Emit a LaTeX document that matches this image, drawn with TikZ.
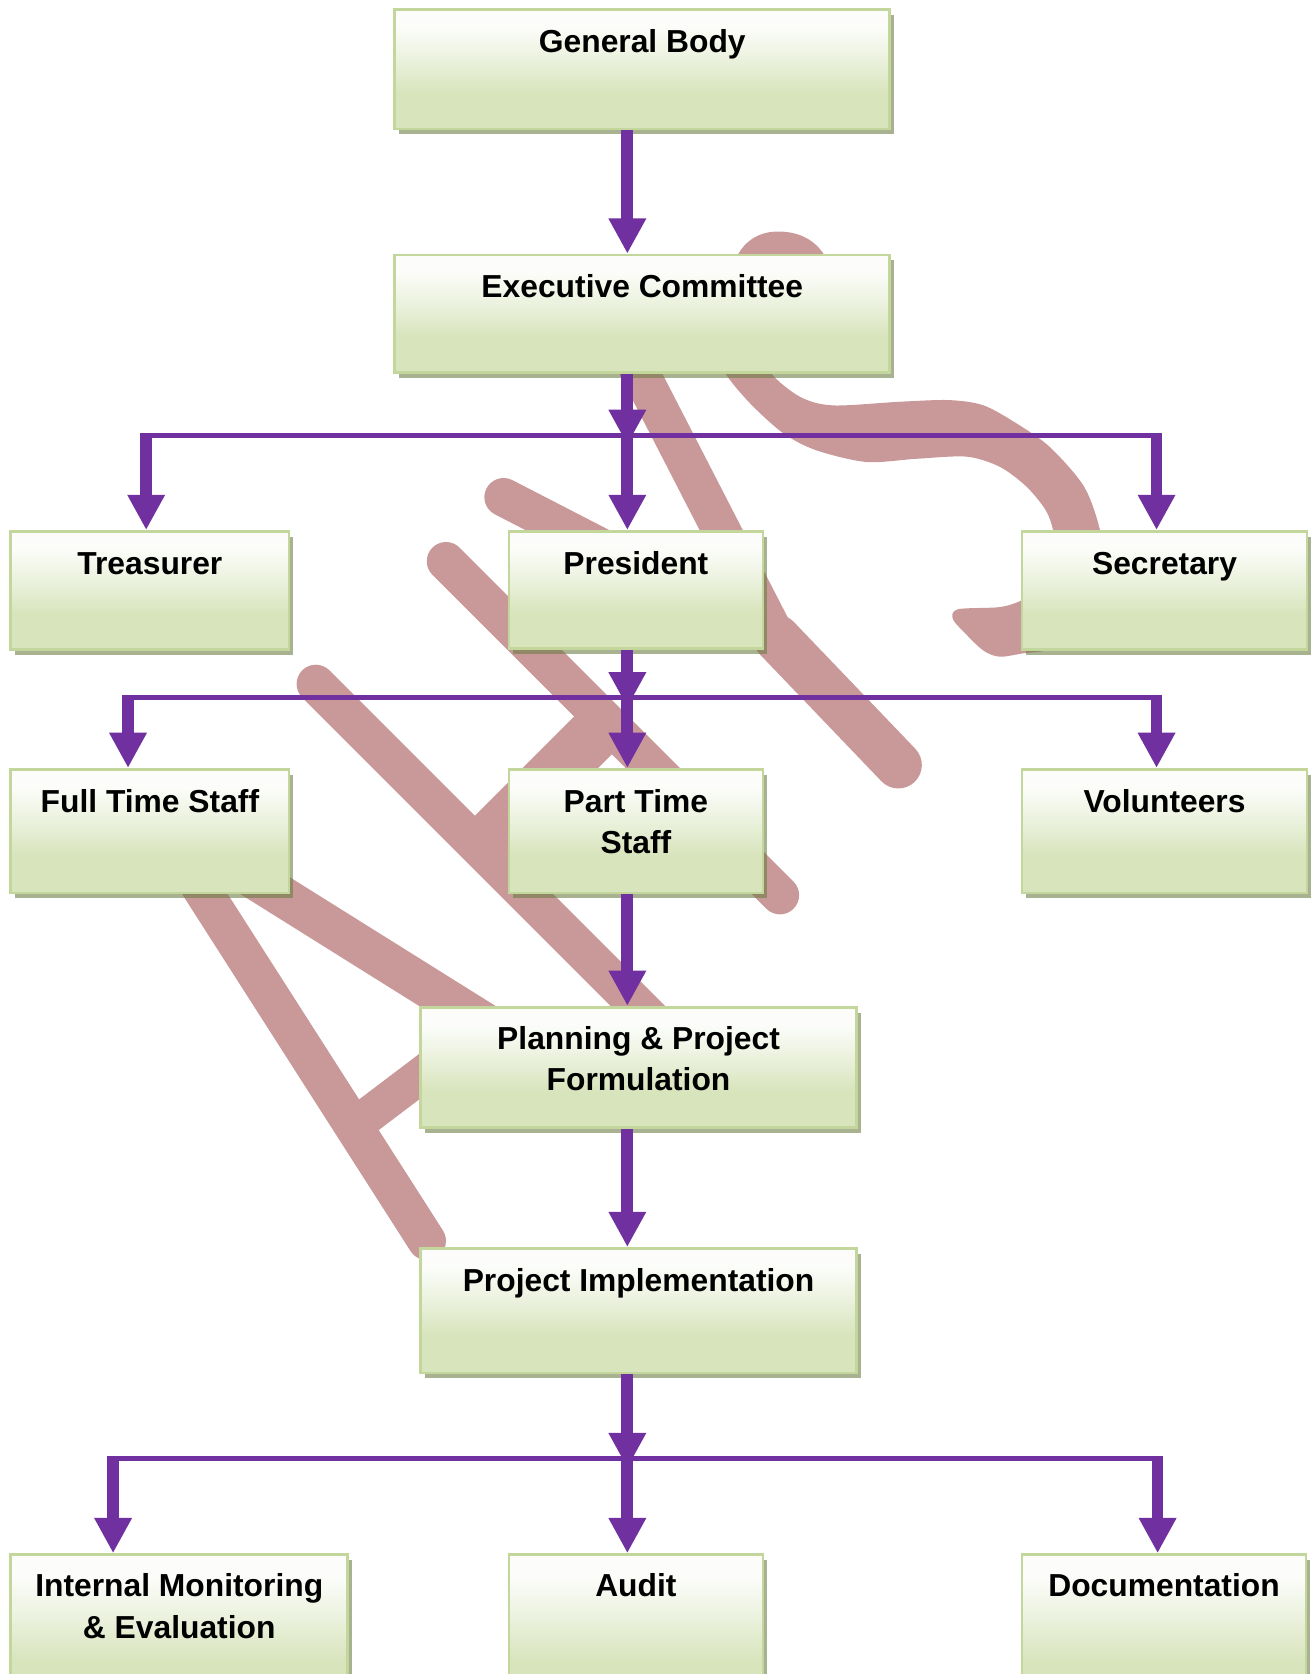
\documentclass[tikz,border=0pt]{standalone}
\usepackage{fontspec}
\setmainfont{Liberation Sans}
\usetikzlibrary{arrows.meta,shadows}
\definecolor{wm}{RGB}{201,153,153}
\definecolor{arr}{RGB}{112,48,160}
\definecolor{bxborder}{RGB}{195,214,155}
\definecolor{bga}{RGB}{216,228,188}
\definecolor{bgb}{RGB}{236,242,223}
\definecolor{bgc}{RGB}{252,253,250}
\definecolor{shd}{RGB}{110,125,70}
\pgfdeclareverticalshading{boxgrad}{100bp}{color(0bp)=(bga); color(25bp)=(bga); color(40bp)=(bga); color(55bp)=(bgb); color(68bp)=(bgc); color(100bp)=(bgc)}
\newcommand{\twol}[2]{\begin{tabular}[t]{@{}c@{}}#1\\#2\end{tabular}}
\begin{document}
\begin{tikzpicture}[x=1pt,y=-1pt,
  box/.style={draw=bxborder, line width=2.5pt, shade, shading=boxgrad, inner sep=0pt,
    drop shadow={shadow xshift=4pt, shadow yshift=-5pt, fill=shd, opacity=0.6}},
  lbl/.style={font=\fontsize{29.8}{39}\selectfont\bfseries, anchor=base, inner sep=0pt},
  wmline/.style={draw=wm, line width=36pt, line cap=round, line join=round},
  flow/.style={draw=arr, line width=11pt, -{Triangle[length=33pt,width=33pt]}},
  bus/.style={draw=arr, line width=5pt}]
\useasboundingbox (0,0) rectangle (1229,1569);
\fill[white] (0,0) rectangle (1229,1569);

% watermark: S
\draw[wmline, line width=40pt] (762,290) .. controls (764,250) and (752,237) .. (729,237)
  .. controls (706,237) and (703,260) .. (703,290);
\fill[wm] plot[smooth cycle, tension=0.5] coordinates {
  (716,325) (723,350) (750,372) (781,380) (844,376.5) (890,375) (922,380) (953,397)
  (984,419) (1016,456) (1031,497) (1036,540) (1024,582) (990,607) (958,612.5)
  (937,615.5) (922,610) (905,594) (893,580) (898,571) (937,569) (958,562.5)
  (980,548) (990,525) (987,497) (980,478) (962,456) (937,437.5) (906,428)
  (859,430) (812,433) (765,422) (734,406) (703,378) (680,350) (672,325)};
% watermark: other strokes
\draw[wmline] (585,320) -- (728,598);
\draw[wmline, line width=44pt] (728,598) -- (842,717);
\draw[wmline] (472,466) -- (728,598);
\draw[wmline] (296,641) -- (645,990);
\draw[wmline] (418,526) -- (731,839);
\draw[wmline, line width=50pt, line cap=butt] (450,795) -- (568,677);
\draw[wmline] (400,1163) -- (146,766);
\draw[wmline, line width=38pt] (146,766) -- (480,975);
\draw[wmline, line width=34pt, line cap=butt] (331,1056) -- (430,981);

% boxes
\node[box, minimum width=464pt, minimum height=112pt] (gb) at (602,65) {};
\node[box, minimum width=464pt, minimum height=110pt] (ec) at (602,294) {};
\node[box, minimum width=261pt, minimum height=111pt] (tr) at (140.5,553.5) {};
\node[box, minimum width=238pt, minimum height=110pt] (pr) at (596,553) {};
\node[box, minimum width=267pt, minimum height=111pt] (se) at (1091.5,553.5) {};
\node[box, minimum width=261pt, minimum height=116pt] (ft) at (140.5,779) {};
\node[box, minimum width=238pt, minimum height=116pt] (pt) at (596,779) {};
\node[box, minimum width=267pt, minimum height=116pt] (vo) at (1091.5,779) {};
\node[box, minimum width=409pt, minimum height=113pt] (pl) at (598.5,1000.5) {};
\node[box, minimum width=409pt, minimum height=117pt] (pi) at (598.5,1228.5) {};
\node[box, minimum width=316pt, minimum height=143pt] (im) at (168,1528.5) {};
\node[box, minimum width=238pt, minimum height=143pt] (au) at (596,1528.5) {};
\node[box, minimum width=266pt, minimum height=143pt] (dc) at (1091,1528.5) {};

% labels
\node[lbl] (tgb) at ([yshift=-41.5pt]gb.north) {General Body};
\node[lbl] (tec) at ([yshift=-41.5pt]ec.north) {Executive Committee};
\node[lbl] (ttr) at ([yshift=-41.5pt]tr.north) {Treasurer};
\node[lbl] (tpr) at ([yshift=-41.5pt]pr.north) {President};
\node[lbl] (tse) at ([yshift=-41.5pt]se.north) {Secretary};
\node[lbl] (tft) at ([yshift=-41.5pt]ft.north) {Full Time Staff};
\node[lbl] (tpt) at ([yshift=-41.5pt]pt.north) {\twol{Part Time}{Staff}};
\node[lbl] (tvo) at ([yshift=-41.5pt]vo.north) {Volunteers};
\node[lbl] (tpl) at ([yshift=-40.5pt]pl.north) {\twol{Planning \& Project}{Formulation}};
\node[lbl] (tpi) at ([yshift=-41.5pt]pi.north) {Project Implementation};
\node[lbl] (tim) at ([yshift=-40.5pt]im.north) {\twol{Internal Monitoring}{\& Evaluation}};
\node[lbl] (tau) at ([yshift=-40.5pt]au.north) {Audit};
\node[lbl] (tdc) at ([yshift=-40.5pt]dc.north) {Documentation};

% connector coordinates
\coordinate (cx) at (588,0);
\coordinate (b1) at (588,408);
\coordinate (b1l) at (137,408);
\coordinate (b1r) at (1084,408);
\coordinate (b2) at (588,654);
\coordinate (b2l) at (120,654);
\coordinate (b2r) at (1084,654);
\coordinate (b3) at (588,1367);
\coordinate (b3l) at (106,1367);
\coordinate (b3r) at (1085,1367);

% connectors
\draw[flow] (gb.south -| cx) -- (ec.north -| cx);

\draw[bus] ([xshift=-5.5pt]b1l) -- ([xshift=5.5pt]b1r);
\draw[flow] (ec.south -| cx) -- ([yshift=-9pt]b1);
\draw[flow] ([yshift=2.5pt]b1l) -- (tr.north -| b1l);
\draw[flow] (b1) -- (pr.north -| cx);
\draw[flow] ([yshift=2.5pt]b1r) -- (se.north -| b1r);

\draw[bus] ([xshift=-5.5pt]b2l) -- ([xshift=5.5pt]b2r);
\draw[flow] (pr.south -| cx) -- ([yshift=-9pt]b2);
\draw[flow] ([yshift=2.5pt]b2l) -- (ft.north -| b2l);
\draw[flow] (b2) -- (pt.north -| cx);
\draw[flow] ([yshift=2.5pt]b2r) -- (vo.north -| b2r);

\draw[flow] (pt.south -| cx) -- (pl.north -| cx);
\draw[flow] (pl.south -| cx) -- (pi.north -| cx);

\draw[bus] ([xshift=-5.5pt]b3l) -- ([xshift=5.5pt]b3r);
\draw[flow] (pi.south -| cx) -- ([yshift=-9pt]b3);
\draw[flow] ([yshift=2.5pt]b3l) -- (im.north -| b3l);
\draw[flow] (b3) -- (au.north -| cx);
\draw[flow] ([yshift=2.5pt]b3r) -- (dc.north -| b3r);
\end{tikzpicture}
\end{document}
